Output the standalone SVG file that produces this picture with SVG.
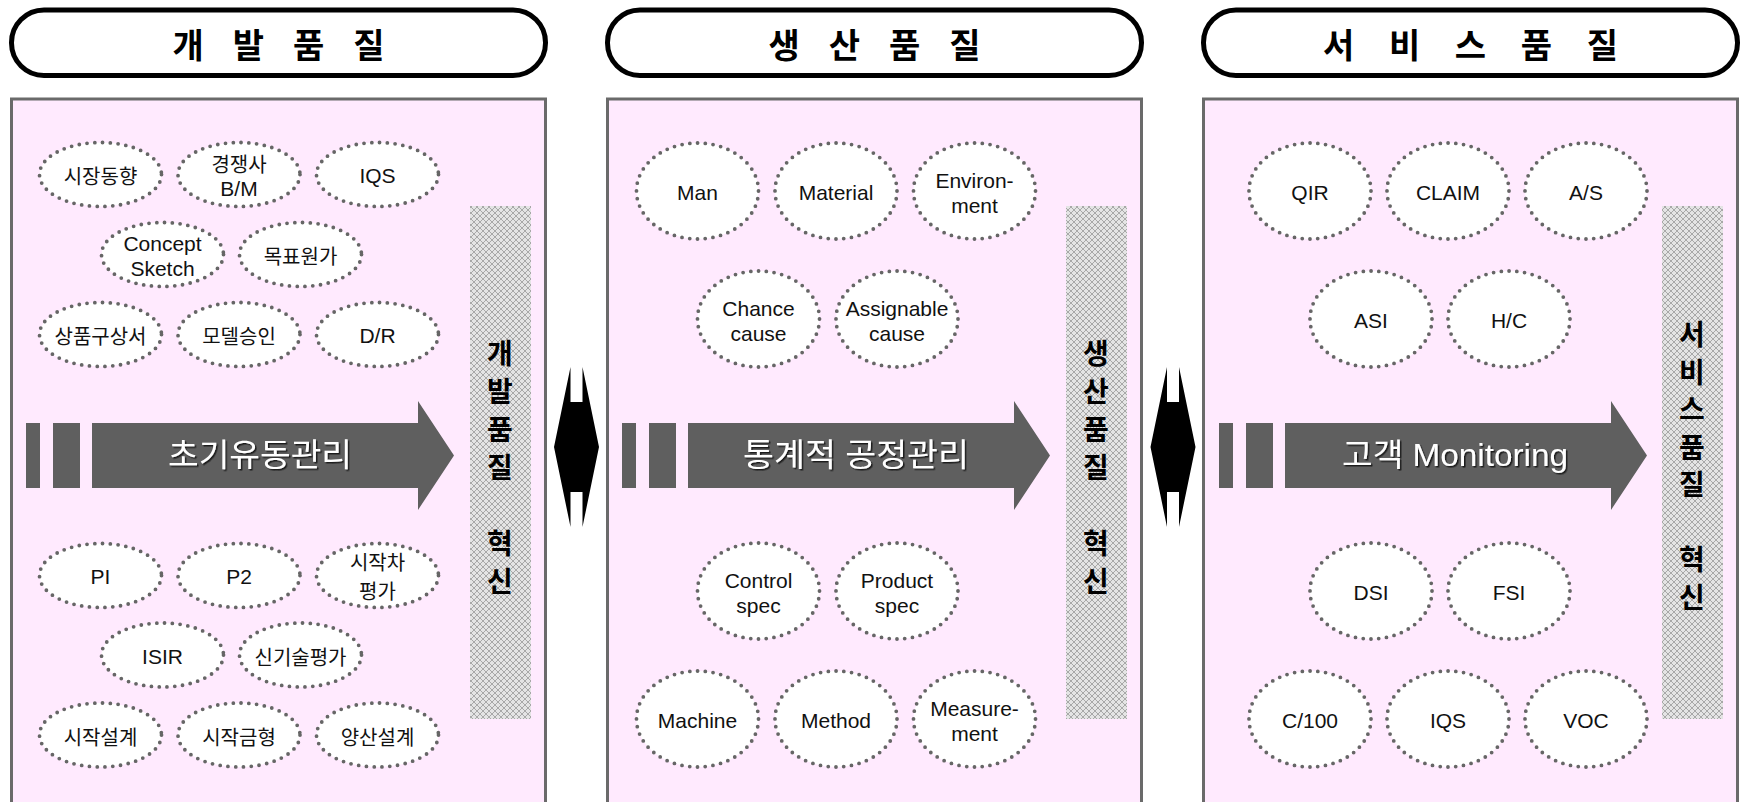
<svg xmlns="http://www.w3.org/2000/svg" width="1746" height="802" viewBox="0 0 1746 802">
<defs>
<style>
.pill{fill:#fff;stroke:#000;stroke-width:5}
.panel{fill:#FFEAFE;stroke:#6a6a6a;stroke-width:3}
.band{fill:url(#hatch)}
.bar{fill:#5f5f5f}
.el{fill:#fff;stroke:#666;stroke-width:3.8;stroke-linecap:round;stroke-dasharray:0 7.8}
.ttl{font-family:"Noto Sans CJK KR",sans-serif;font-weight:700;font-size:34px;fill:#000}
.vt{font-family:"Noto Sans CJK KR",sans-serif;font-weight:700;font-size:28px;fill:#000;text-anchor:middle;dominant-baseline:central}
.k{font-family:"Noto Sans CJK KR",sans-serif;font-size:20px;fill:#111;text-anchor:middle;dominant-baseline:central}
.l{font-family:"Liberation Sans","Noto Sans CJK KR",sans-serif;font-size:21px;fill:#111;text-anchor:middle;dominant-baseline:central}
.at{font-family:"Liberation Sans","Noto Sans CJK KR",sans-serif;font-size:32px;fill:#fff;text-anchor:middle;dominant-baseline:central;filter:url(#sh)}
.dia{fill:#000}
</style>
<pattern id="hatch" width="6" height="6" patternUnits="userSpaceOnUse">
<rect width="6" height="6" fill="#e4e4e4"/>
<path d="M0,0L6,6M6,0L0,6" stroke="#a8a8a8" stroke-width="1"/>
</pattern>
<filter id="sh" x="-10%" y="-30%" width="120%" height="160%">
<feDropShadow dx="1.5" dy="1.5" stdDeviation="0.4" flood-color="#1a1a1a" flood-opacity="1"/>
</filter>
<polygon id="dia" points="570.5,367 570.5,402 582.5,402 582.5,367 599,447 582.5,527 582.5,492 570.5,492 570.5,527 554,447"/>
</defs>

<g id="title-dev">
<rect class="pill" x="11.5" y="10" width="534" height="65.5" rx="32.5"/>
<text class="ttl" x="278.5" y="43" text-anchor="middle" dominant-baseline="central" textLength="212" lengthAdjust="spacing">개 발 품 질</text>
</g>
<g id="title-prod">
<rect class="pill" x="607.5" y="10" width="534" height="65.5" rx="32.5"/>
<text class="ttl" x="874.5" y="43" text-anchor="middle" dominant-baseline="central" textLength="212" lengthAdjust="spacing">생 산 품 질</text>
</g>
<g id="title-svc">
<rect class="pill" x="1203.5" y="10" width="534" height="65.5" rx="32.5"/>
<text class="ttl" x="1470.5" y="43" text-anchor="middle" dominant-baseline="central" textLength="295" lengthAdjust="spacing">서 비 스 품 질</text>
</g>

<g id="panel-dev">
<rect class="panel" x="11.5" y="99" width="534" height="720"/>
<rect class="band" x="470" y="206" width="61" height="513"/>
<g class="vt"><text x="500" y="352">개</text><text x="500" y="390">발</text><text x="500" y="428">품</text><text x="500" y="466">질</text><text x="500" y="542">혁</text><text x="500" y="580">신</text></g>
</g>
<g id="panel-prod">
<rect class="panel" x="607.5" y="99" width="534" height="720"/>
<rect class="band" x="1066" y="206" width="61" height="513"/>
<g class="vt"><text x="1096" y="352">생</text><text x="1096" y="390">산</text><text x="1096" y="428">품</text><text x="1096" y="466">질</text><text x="1096" y="542">혁</text><text x="1096" y="580">신</text></g>
</g>
<g id="panel-svc">
<rect class="panel" x="1203.5" y="99" width="534" height="720"/>
<rect class="band" x="1662" y="206" width="61" height="513"/>
<g class="vt"><text x="1692" y="333">서</text><text x="1692" y="371">비</text><text x="1692" y="408">스</text><text x="1692" y="446">품</text><text x="1692" y="483">질</text><text x="1692" y="558">혁</text><text x="1692" y="596">신</text></g>
</g>

<g id="flow-dev">
<rect class="bar" x="26" y="423" width="14" height="65"/>
<rect class="bar" x="53" y="423" width="27" height="65"/>
<polygon class="bar" points="92,423 418,423 418,401 454,455.5 418,510 418,488 92,488"/>
<text class="at" x="260" y="455" textLength="184" lengthAdjust="spacingAndGlyphs">초기유동관리</text>
</g>
<g id="flow-prod">
<rect class="bar" x="622" y="423" width="14" height="65"/>
<rect class="bar" x="649" y="423" width="27" height="65"/>
<polygon class="bar" points="688,423 1014,423 1014,401 1050,455.5 1014,510 1014,488 688,488"/>
<text class="at" x="856" y="455" textLength="226" lengthAdjust="spacingAndGlyphs">통계적 공정관리</text>
</g>
<g id="flow-svc">
<rect class="bar" x="1219" y="423" width="14" height="65"/>
<rect class="bar" x="1246" y="423" width="27" height="65"/>
<polygon class="bar" points="1285,423 1611,423 1611,401 1647,455.5 1611,510 1611,488 1285,488"/>
<text class="at" x="1455" y="455" textLength="226" lengthAdjust="spacingAndGlyphs">고객 Monitoring</text>
</g>

<g id="connectors">
<use href="#dia" class="dia"/>
<use href="#dia" class="dia" x="596.5"/>
</g>

<!-- Development panel items -->
<g id="n-market"><ellipse class="el" cx="100.5" cy="174.5" rx="61" ry="32"/><text class="k" x="100.5" y="175.5">시장동향</text></g>
<g id="n-competitor"><ellipse class="el" cx="239" cy="174.5" rx="61" ry="32"/><text class="k" x="239" y="163">경쟁사</text><text class="l" x="239" y="188">B/M</text></g>
<g id="n-iqs1"><ellipse class="el" cx="377.5" cy="174.5" rx="61" ry="32"/><text class="l" x="377.5" y="175.5">IQS</text></g>
<g id="n-concept"><ellipse class="el" cx="162.5" cy="254.5" rx="61" ry="32"/><text class="l" x="162.5" y="243">Concept</text><text class="l" x="162.5" y="268">Sketch</text></g>
<g id="n-target"><ellipse class="el" cx="300.5" cy="254.5" rx="61" ry="32"/><text class="k" x="300.5" y="255.5">목표원가</text></g>
<g id="n-plan"><ellipse class="el" cx="100.5" cy="334.5" rx="61" ry="32"/><text class="k" x="100.5" y="335.5">상품구상서</text></g>
<g id="n-model"><ellipse class="el" cx="239" cy="334.5" rx="61" ry="32"/><text class="k" x="239" y="335.5">모델승인</text></g>
<g id="n-dr"><ellipse class="el" cx="377.5" cy="334.5" rx="61" ry="32"/><text class="l" x="377.5" y="335.5">D/R</text></g>
<g id="n-pi"><ellipse class="el" cx="100.5" cy="575.5" rx="61" ry="32"/><text class="l" x="100.5" y="576.5">PI</text></g>
<g id="n-p2"><ellipse class="el" cx="239" cy="575.5" rx="61" ry="32"/><text class="l" x="239" y="576.5">P2</text></g>
<g id="n-proto-eval"><ellipse class="el" cx="377.5" cy="575.5" rx="61" ry="32"/><text class="k" x="377.5" y="561.5">시작차</text><text class="k" x="377.5" y="590.5">평가</text></g>
<g id="n-isir"><ellipse class="el" cx="162.5" cy="655" rx="61" ry="32"/><text class="l" x="162.5" y="656">ISIR</text></g>
<g id="n-newtech"><ellipse class="el" cx="300.5" cy="655" rx="61" ry="32"/><text class="k" x="300.5" y="656">신기술평가</text></g>
<g id="n-proto-design"><ellipse class="el" cx="100.5" cy="735" rx="61" ry="32"/><text class="k" x="100.5" y="736">시작설계</text></g>
<g id="n-proto-mold"><ellipse class="el" cx="239" cy="735" rx="61" ry="32"/><text class="k" x="239" y="736">시작금형</text></g>
<g id="n-mass-design"><ellipse class="el" cx="377.5" cy="735" rx="61" ry="32"/><text class="k" x="377.5" y="736">양산설계</text></g>

<!-- Production panel items -->
<g id="n-man"><ellipse class="el" cx="697.5" cy="191" rx="61" ry="48"/><text class="l" x="697.5" y="192">Man</text></g>
<g id="n-material"><ellipse class="el" cx="836" cy="191" rx="61" ry="48"/><text class="l" x="836" y="192">Material</text></g>
<g id="n-environment"><ellipse class="el" cx="974.5" cy="191" rx="61" ry="48"/><text class="l" x="974.5" y="180">Environ-</text><text class="l" x="974.5" y="205">ment</text></g>
<g id="n-chance"><ellipse class="el" cx="758.5" cy="319" rx="61" ry="48"/><text class="l" x="758.5" y="308">Chance</text><text class="l" x="758.5" y="333">cause</text></g>
<g id="n-assignable"><ellipse class="el" cx="897" cy="319" rx="61" ry="48"/><text class="l" x="897" y="308">Assignable</text><text class="l" x="897" y="333">cause</text></g>
<g id="n-control"><ellipse class="el" cx="758.5" cy="591" rx="61" ry="48"/><text class="l" x="758.5" y="580">Control</text><text class="l" x="758.5" y="605">spec</text></g>
<g id="n-product"><ellipse class="el" cx="897" cy="591" rx="61" ry="48"/><text class="l" x="897" y="580">Product</text><text class="l" x="897" y="605">spec</text></g>
<g id="n-machine"><ellipse class="el" cx="697.5" cy="719" rx="61" ry="48"/><text class="l" x="697.5" y="720">Machine</text></g>
<g id="n-method"><ellipse class="el" cx="836" cy="719" rx="61" ry="48"/><text class="l" x="836" y="720">Method</text></g>
<g id="n-measurement"><ellipse class="el" cx="974.5" cy="719" rx="61" ry="48"/><text class="l" x="974.5" y="708">Measure-</text><text class="l" x="974.5" y="733">ment</text></g>

<!-- Service panel items -->
<g id="n-qir"><ellipse class="el" cx="1310" cy="191" rx="61" ry="48"/><text class="l" x="1310" y="192">QIR</text></g>
<g id="n-claim"><ellipse class="el" cx="1448" cy="191" rx="61" ry="48"/><text class="l" x="1448" y="192">CLAIM</text></g>
<g id="n-as"><ellipse class="el" cx="1586" cy="191" rx="61" ry="48"/><text class="l" x="1586" y="192">A/S</text></g>
<g id="n-asi"><ellipse class="el" cx="1371" cy="319" rx="61" ry="48"/><text class="l" x="1371" y="320">ASI</text></g>
<g id="n-hc"><ellipse class="el" cx="1509" cy="319" rx="61" ry="48"/><text class="l" x="1509" y="320">H/C</text></g>
<g id="n-dsi"><ellipse class="el" cx="1371" cy="591" rx="61" ry="48"/><text class="l" x="1371" y="592">DSI</text></g>
<g id="n-fsi"><ellipse class="el" cx="1509" cy="591" rx="61" ry="48"/><text class="l" x="1509" y="592">FSI</text></g>
<g id="n-c100"><ellipse class="el" cx="1310" cy="719" rx="61" ry="48"/><text class="l" x="1310" y="720">C/100</text></g>
<g id="n-iqs2"><ellipse class="el" cx="1448" cy="719" rx="61" ry="48"/><text class="l" x="1448" y="720">IQS</text></g>
<g id="n-voc"><ellipse class="el" cx="1586" cy="719" rx="61" ry="48"/><text class="l" x="1586" y="720">VOC</text></g>
</svg>
